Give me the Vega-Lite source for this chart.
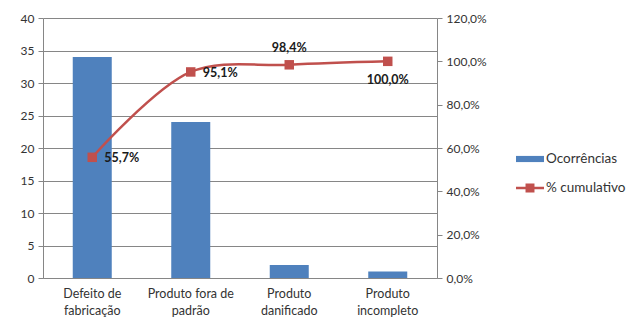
{
  "$schema": "https://vega.github.io/schema/vega-lite/v6.json",
  "width": 394,
  "height": 260,
  "padding": {"left": 20, "top": 12, "right": 5, "bottom": 5},
  "autosize": {"type": "pad"},
  "background": "white",
  "config": {
    "locale": {"number": {"decimal": ",", "thousands": ".", "grouping": [3], "currency": ["R$", ""]}},
    "font": "Lato",
    "view": {"stroke": null},
    "axis": {
      "domainColor": "#868686",
      "tickColor": "#868686",
      "gridColor": "#868686",
      "labelColor": "#333333",
      "labelFontSize": 12,
      "labelFont": "Lato",
      "titleFont": "Lato"
    }
  },
  "data": {
    "values": [
      {"categoria": "Defeito de fabricação", "ocorrencias": 34, "cumulativo": 0.557},
      {"categoria": "Produto fora de padrão", "ocorrencias": 24, "cumulativo": 0.951},
      {"categoria": "Produto danificado", "ocorrencias": 2, "cumulativo": 0.984},
      {"categoria": "Produto incompleto", "ocorrencias": 1, "cumulativo": 1.0}
    ]
  },
  "encoding": {
    "x": {
      "field": "categoria",
      "type": "nominal",
      "sort": null,
      "scale": {"paddingInner": 0.604, "paddingOuter": 0.302},
      "axis": {
        "title": null,
        "labelAngle": 0,
        "ticks": false,
        "labelPadding": 9,
        "labelLineHeight": 17,
        "labelFontSize": 12.5,
        "labelExpr": "datum.label == 'Defeito de fabricação' ? ['Defeito de', 'fabricação'] : datum.label == 'Produto fora de padrão' ? ['Produto fora de', 'padrão'] : datum.label == 'Produto danificado' ? ['Produto', 'danificado'] : ['Produto', 'incompleto']"
      }
    }
  },
  "layer": [
    {
      "mark": {"type": "bar"},
      "encoding": {
        "y": {
          "field": "ocorrencias",
          "type": "quantitative",
          "scale": {"domain": [0, 40], "nice": false},
          "axis": {"title": null, "values": [0, 5, 10, 15, 20, 25, 30, 35, 40], "grid": true, "tickSize": 5, "labelPadding": 4}
        },
        "color": {
          "datum": "Ocorrências",
          "scale": {"domain": ["Ocorrências", "% cumulativo"], "range": ["#4F81BD", "#C0504D"]},
          "legend": {
            "orient": "none",
            "legendX": 473,
            "legendY": 127,
            "title": null,
            "symbolSize": 784,
            "labelFontSize": 13.5,
            "labelColor": "#333333",
            "rowPadding": 8,
            "labelOffset": 2,
            "encode": {
              "symbols": {
                "update": {
                  "shape": {"signal": "datum.value == 'Ocorrências' ? 'M-1,-0.22H1V0.22H-1Z' : 'M-1,-0.09H1V0.09H-1Z M-0.32,-0.32H0.32V0.32H-0.32Z'"},
                  "fill": {"signal": "datum.value == 'Ocorrências' ? '#4F81BD' : '#C0504D'"},
                  "stroke": {"value": "transparent"},
                  "strokeWidth": {"value": 0},
                  "opacity": {"value": 1}
                }
              }
            }
          }
        }
      }
    },
    {
      "encoding": {
        "y": {
          "field": "cumulativo",
          "type": "quantitative",
          "scale": {"domain": [0, 1.2], "nice": false},
          "axis": {"title": null, "orient": "right", "format": ".1%", "values": [0, 0.2, 0.4, 0.6, 0.8, 1.0, 1.2], "grid": false, "tickSize": 5, "labelPadding": 4}
        }
      },
      "layer": [
        {
          "mark": {"type": "line", "interpolate": "catmull-rom", "strokeWidth": 2.5},
          "encoding": {"color": {"datum": "% cumulativo"}}
        },
        {
          "mark": {"type": "square", "size": 90, "color": "#C0504D", "opacity": 1, "filled": true}
        },
        {
          "transform": [{"filter": "datum.ocorrencias >= 24"}],
          "mark": {"type": "text", "align": "left", "dx": 12, "dy": 1, "fontWeight": "bold", "fontSize": 12.5, "color": "#1a1a1a", "font": "Lato"},
          "encoding": {"text": {"field": "cumulativo", "type": "quantitative", "format": ".1%"}}
        },
        {
          "transform": [{"filter": "datum.ocorrencias == 2"}],
          "mark": {"type": "text", "align": "center", "dy": -17, "fontWeight": "bold", "fontSize": 12.5, "color": "#1a1a1a", "font": "Lato"},
          "encoding": {"text": {"field": "cumulativo", "type": "quantitative", "format": ".1%"}}
        },
        {
          "transform": [{"filter": "datum.ocorrencias == 1"}],
          "mark": {"type": "text", "align": "center", "dy": 19, "fontWeight": "bold", "fontSize": 12.5, "color": "#1a1a1a", "font": "Lato"},
          "encoding": {"text": {"field": "cumulativo", "type": "quantitative", "format": ".1%"}}
        }
      ]
    }
  ],
  "resolve": {"scale": {"y": "independent"}}
}
